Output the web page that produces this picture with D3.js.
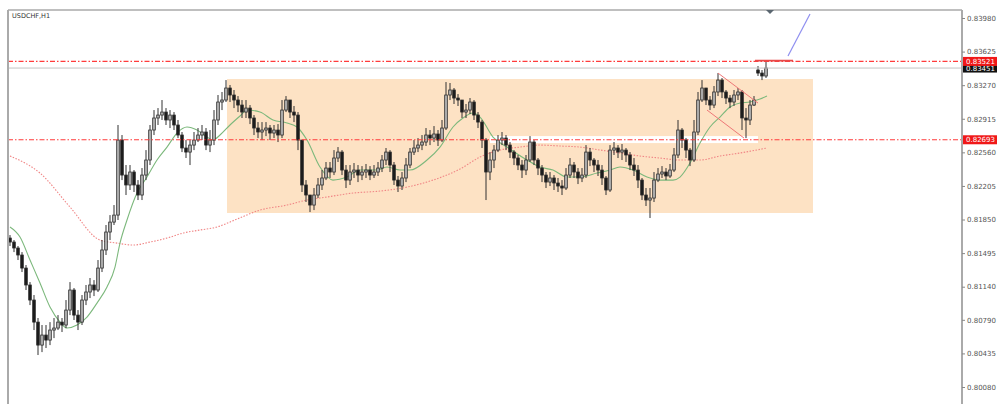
<!DOCTYPE html>
<html><head><meta charset="utf-8">
<script src="https://cdn.jsdelivr.net/npm/d3@7"></script>
<style>body{margin:0;background:#fff}svg{display:block}</style>
</head><body>
<svg id="chart" width="1000" height="412"></svg>
<script>
const symbolTitle = "USDCHF,H1";
const tickValues = [0.83980,0.83625,0.83270,0.82915,0.82560,0.82205,0.81850,0.81495,0.81140,0.80790,0.80435,0.80080];

const opens = [
0.81654,0.81612,0.81549,0.81475,0.81337,0.81158,0.80999,0.80766,0.80523,0.80629,
0.80576,0.80682,0.80703,0.80766,0.80735,0.80893,0.81105,0.80840,0.80766,0.80999,
0.81084,0.81158,0.81105,0.81337,0.81528,0.81718,0.81823,0.81897,0.82690,0.82320,
0.82215,0.82352,0.82215,0.82109,0.82320,0.82479,0.82796,0.82923,0.82954,0.82986,
0.82902,0.82954,0.82849,0.82743,0.82606,0.82563,0.82637,0.82690,0.82743,0.82775,
0.82637,0.82690,0.82902,0.83092,0.83113,0.83240,0.83166,0.83113,0.83060,0.82986,
0.83028,0.82923,0.82817,0.82775,0.82796,0.82817,0.82764,0.82796,0.82743,0.83007,
0.83113,0.82986,0.82954,0.82690,0.82215,0.82109,0.82003,0.82109,0.82215,0.82289,
0.82394,0.82352,0.82500,0.82563,0.82373,0.82267,0.82352,0.82373,0.82320,0.82352,
0.82373,0.82320,0.82352,0.82394,0.82479,0.82563,0.82426,0.82267,0.82204,0.82289,
0.82426,0.82563,0.82606,0.82637,0.82669,0.82743,0.82711,0.82754,0.82690,0.82817,
0.83166,0.83219,0.83134,0.83113,0.82986,0.83007,0.83092,0.82954,0.82880,0.82690,
0.82352,0.82479,0.82584,0.82690,0.82711,0.82637,0.82563,0.82500,0.82426,0.82373,
0.82479,0.82669,0.82479,0.82394,0.82320,0.82246,0.82289,0.82236,0.82204,0.82183,
0.82320,0.82426,0.82352,0.82289,0.82320,0.82563,0.82479,0.82426,0.82373,0.82289,
0.82162,0.82584,0.82606,0.82563,0.82584,0.82532,0.82426,0.82373,0.82267,0.82109,
0.82056,0.82077,0.82267,0.82331,0.82352,0.82310,0.82373,0.82532,0.82796,0.82690,
0.82584,0.82479,0.82775,0.83113,0.83240,0.83113,0.83060,0.83198,0.83324,0.83198,
0.83134,0.83092,0.83166,0.83198,0.82923,0.82902,0.83060,0.83430,0.83398,0.83367];

const highs = [
0.81686,0.81633,0.81570,0.81506,0.81369,0.81189,0.81052,0.80809,0.80735,0.80735,
0.80766,0.80809,0.80840,0.80809,0.80999,0.81189,0.81126,0.80893,0.81052,0.81158,
0.81232,0.81210,0.81422,0.81633,0.81792,0.81897,0.82003,0.82849,0.82743,0.82426,
0.82426,0.82373,0.82267,0.82394,0.82584,0.82849,0.83007,0.83028,0.83113,0.83028,
0.83007,0.82986,0.82902,0.82775,0.82690,0.82690,0.82775,0.82817,0.82849,0.82817,
0.82796,0.83007,0.83166,0.83198,0.83324,0.83272,0.83219,0.83155,0.83113,0.83113,
0.83060,0.82954,0.82880,0.82880,0.82880,0.82849,0.82849,0.82859,0.83113,0.83155,
0.83113,0.83050,0.82986,0.82690,0.82267,0.82109,0.82183,0.82289,0.82373,0.82458,
0.82458,0.82584,0.82616,0.82584,0.82426,0.82426,0.82447,0.82426,0.82415,0.82437,
0.82415,0.82426,0.82458,0.82532,0.82606,0.82584,0.82458,0.82310,0.82352,0.82500,
0.82606,0.82690,0.82711,0.82743,0.82817,0.82796,0.82838,0.82796,0.82902,0.83303,
0.83293,0.83240,0.83176,0.83113,0.83071,0.83134,0.83113,0.82986,0.82902,0.82711,
0.82563,0.82637,0.82743,0.82775,0.82743,0.82669,0.82584,0.82532,0.82479,0.82532,
0.82732,0.82690,0.82500,0.82426,0.82352,0.82352,0.82320,0.82289,0.82267,0.82394,
0.82500,0.82458,0.82394,0.82394,0.82637,0.82606,0.82500,0.82479,0.82426,0.82310,
0.82637,0.82669,0.82637,0.82648,0.82606,0.82563,0.82500,0.82426,0.82289,0.82183,
0.82183,0.82352,0.82394,0.82415,0.82394,0.82437,0.82606,0.82902,0.82817,0.82711,
0.82606,0.82902,0.83198,0.83324,0.83240,0.83155,0.83261,0.83398,0.83346,0.83219,
0.83166,0.83219,0.83240,0.83219,0.83028,0.83113,0.83155,0.83472,0.83430,0.83515];

const lows = [
0.81570,0.81506,0.81422,0.81295,0.81105,0.80946,0.80682,0.80418,0.80449,0.80492,
0.80523,0.80597,0.80682,0.80661,0.80703,0.80840,0.80788,0.80682,0.80735,0.80946,
0.81020,0.81041,0.81084,0.81295,0.81475,0.81633,0.81792,0.81845,0.82267,0.82109,
0.82162,0.82141,0.82056,0.82056,0.82267,0.82426,0.82743,0.82849,0.82902,0.82849,
0.82817,0.82796,0.82711,0.82563,0.82500,0.82426,0.82584,0.82669,0.82690,0.82584,
0.82563,0.82637,0.82849,0.83007,0.83092,0.83092,0.83028,0.82986,0.82923,0.82923,
0.82859,0.82743,0.82711,0.82690,0.82732,0.82690,0.82711,0.82669,0.82711,0.82986,
0.82923,0.82880,0.82584,0.82141,0.82035,0.81929,0.81950,0.82077,0.82162,0.82267,
0.82289,0.82320,0.82458,0.82320,0.82183,0.82215,0.82289,0.82246,0.82267,0.82289,
0.82267,0.82289,0.82310,0.82352,0.82426,0.82352,0.82215,0.82141,0.82162,0.82246,
0.82394,0.82532,0.82563,0.82584,0.82627,0.82637,0.82669,0.82627,0.82669,0.82796,
0.83113,0.83071,0.83050,0.82923,0.82923,0.82965,0.82902,0.82817,0.82606,0.82056,
0.82267,0.82394,0.82563,0.82637,0.82584,0.82500,0.82426,0.82373,0.82289,0.82320,
0.82458,0.82426,0.82320,0.82246,0.82183,0.82204,0.82162,0.82141,0.82109,0.82162,
0.82289,0.82289,0.82225,0.82246,0.82289,0.82415,0.82352,0.82310,0.82215,0.82109,
0.82141,0.82532,0.82500,0.82479,0.82458,0.82373,0.82310,0.82183,0.82056,0.81993,
0.81866,0.82035,0.82246,0.82289,0.82267,0.82289,0.82352,0.82500,0.82606,0.82500,
0.82415,0.82458,0.82743,0.83092,0.83060,0.83007,0.83028,0.83155,0.83134,0.83071,
0.83028,0.83050,0.83113,0.82796,0.82711,0.82849,0.83050,0.83367,0.83324,0.83346];

const closes = [
0.81612,0.81549,0.81475,0.81337,0.81158,0.80999,0.80766,0.80523,0.80629,0.80576,
0.80682,0.80703,0.80766,0.80735,0.80893,0.81105,0.80840,0.80766,0.80999,0.81084,
0.81158,0.81105,0.81337,0.81528,0.81718,0.81823,0.81897,0.82690,0.82320,0.82215,
0.82352,0.82215,0.82109,0.82320,0.82479,0.82796,0.82923,0.82954,0.82986,0.82902,
0.82954,0.82849,0.82743,0.82606,0.82563,0.82637,0.82690,0.82743,0.82775,0.82637,
0.82690,0.82902,0.83092,0.83113,0.83240,0.83166,0.83113,0.83060,0.82986,0.83028,
0.82923,0.82817,0.82775,0.82796,0.82817,0.82764,0.82796,0.82743,0.83007,0.83113,
0.82986,0.82954,0.82690,0.82215,0.82109,0.82003,0.82109,0.82215,0.82289,0.82394,
0.82352,0.82500,0.82563,0.82373,0.82267,0.82352,0.82373,0.82320,0.82352,0.82373,
0.82320,0.82352,0.82394,0.82479,0.82563,0.82426,0.82267,0.82204,0.82289,0.82426,
0.82563,0.82606,0.82637,0.82669,0.82743,0.82711,0.82754,0.82690,0.82817,0.83166,
0.83219,0.83134,0.83113,0.82986,0.83007,0.83092,0.82954,0.82880,0.82690,0.82352,
0.82479,0.82584,0.82690,0.82711,0.82637,0.82563,0.82500,0.82426,0.82373,0.82479,
0.82669,0.82479,0.82394,0.82320,0.82246,0.82289,0.82236,0.82204,0.82183,0.82320,
0.82426,0.82352,0.82289,0.82320,0.82563,0.82479,0.82426,0.82373,0.82289,0.82162,
0.82584,0.82606,0.82563,0.82584,0.82532,0.82426,0.82373,0.82267,0.82109,0.82056,
0.82077,0.82267,0.82331,0.82352,0.82310,0.82373,0.82532,0.82796,0.82690,0.82584,
0.82479,0.82775,0.83113,0.83240,0.83113,0.83060,0.83198,0.83324,0.83198,0.83134,
0.83092,0.83166,0.83198,0.82923,0.82902,0.83060,0.83113,0.83398,0.83367,0.83451];

// moving averages: [bar index, price]
const maFast = [
[0,0.81771],[2.5,0.81665],[5,0.81422],[7.5,0.81179],[10,0.80925],[12.5,0.80766],[14.25,0.80703],
[16.75,0.80735],[19.25,0.80819],[21.75,0.80967],[24.25,0.81136],[26.25,0.81348],[27.5,0.81601],
[29.25,0.81845],[31.75,0.82130],[34.25,0.82299],[36.75,0.82479],[39.25,0.82616],[41.75,0.82764],
[44.25,0.82828],[46.75,0.82796],[49.25,0.82722],[50.75,0.82690],[52.5,0.82743],[55,0.82849],
[57.5,0.82944],[59.25,0.83007],[62.5,0.82986],[65.75,0.82902],[69.25,0.82870],[71.75,0.82828],
[74.25,0.82690],[77.5,0.82405],[80.75,0.82267],[84.25,0.82299],[87.5,0.82373],[91.75,0.82373],
[94.25,0.82405],[97.5,0.82373],[100,0.82373],[104.25,0.82479],[107.5,0.82616],[110.75,0.82828],
[113.25,0.82923],[115.75,0.82976],[117.5,0.82933],[120.75,0.82722],[124.25,0.82616],[129.25,0.82479],
[132.5,0.82405],[135.75,0.82373],[139.25,0.82299],[142.5,0.82299],[146.75,0.82341],[150,0.82373],
[152.5,0.82405],[155.75,0.82373],[159.25,0.82299],[162.5,0.82267],[165.75,0.82267],[167.5,0.82299],
[170,0.82447],[172.5,0.82658],[175,0.82828],[177.5,0.82933],[180,0.83039],[182.5,0.83081],
[185,0.83092],[187.5,0.83124],[189.25,0.83155]];

const maSlow = [
[0,0.82521],[7.5,0.82341],[15,0.81982],[22.5,0.81633],[26.75,0.81601],[30.75,0.81580],[35,0.81612],
[39.25,0.81654],[43.25,0.81707],[47.5,0.81739],[51.75,0.81771],[56.75,0.81855],[62.5,0.81950],
[69.25,0.82003],[74.25,0.82056],[79.25,0.82088],[85.75,0.82130],[92.5,0.82151],[99.25,0.82193],
[105.75,0.82267],[112.5,0.82384],[117.5,0.82510],[122.5,0.82585],[127.5,0.82616],[132.5,0.82637],
[137.5,0.82627],[142.5,0.82616],[147.5,0.82585],[152.5,0.82553],[157.5,0.82521],[162.5,0.82500],
[167.5,0.82479],[172.5,0.82479],[177.5,0.82521],[182.5,0.82553],[189.25,0.82606]];

const levelPrices = [0.83521, 0.82693];
const bidPrice = 0.83451;
const rangeBox = [54.25, 200.75, 0.83335, 0.81919];      // from bar, to bar, top, bottom
const levelBand = [120, 187, 0.82732, 0.82658];
const wedgeUpper = [[177,0.83398],[187,0.83081]];
const wedgeLower = [[174.25,0.83007],[183.5,0.82711]];
const targetLine = [[194.5,0.83578],[200,0.84022]];
const targetMark = [[186.25,0.83530],[195.75,0.83530]];
const shiftBar = 190;

// ---------- drawing ----------
const svg = d3.select("#chart");
const L = 8, R = 962, T = 10, B = 404;
const x = d3.scaleLinear().domain([0, 238]).range([10, 962]);
const y = d3.scaleLinear().domain([0.80080, 0.83980]).range([387, 18]);

const defs = svg.append("defs");
defs.append("clipPath").attr("id","plot")
  .append("rect").attr("x",L).attr("y",T).attr("width",R-L).attr("height",B-T);
defs.append("filter").attr("id","soft").attr("x","-5%").attr("y","-5%").attr("width","110%").attr("height","110%")
  .append("feGaussianBlur").attr("stdDeviation",0.45);
const g = svg.append("g").attr("clip-path","url(#plot)");

// range rectangle
g.append("rect")
  .attr("x", x(rangeBox[0])).attr("y", y(rangeBox[2]))
  .attr("width", x(rangeBox[1]) - x(rangeBox[0]))
  .attr("height", y(rangeBox[3]) - y(rangeBox[2]))
  .attr("fill", "#fde2c4");
g.append("rect")
  .attr("x", x(levelBand[0])).attr("y", y(levelBand[2]))
  .attr("width", x(levelBand[1]) - x(levelBand[0]))
  .attr("height", y(levelBand[3]) - y(levelBand[2]))
  .attr("fill", "#ffffff");

const line = d3.line().x(d => x(d[0])).y(d => y(d[1])).curve(d3.curveMonotoneX);
g.append("path").attr("d", line(maSlow)).attr("fill","none")
  .attr("stroke","#f08585").attr("stroke-width",1.1).attr("stroke-dasharray","1.5,1.5");
g.append("path").attr("d", line(maFast)).attr("fill","none")
  .attr("stroke","#7cb87c").attr("stroke-width",1.1);

// candles
const bars = closes.map((c, i) => ({i, o: opens[i], h: highs[i], l: lows[i], c}));
const cg = g.append("g").attr("filter","url(#soft)");
cg.selectAll("line.wick").data(bars).join("line")
  .attr("x1", d => x(d.i)).attr("x2", d => x(d.i))
  .attr("y1", d => y(d.h)).attr("y2", d => y(d.l))
  .attr("stroke", "#333").attr("stroke-width", 1);
cg.selectAll("rect.body").data(bars).join("rect")
  .attr("x", d => x(d.i) - 1.3).attr("width", 2.6)
  .attr("y", d => y(Math.max(d.o, d.c)))
  .attr("height", d => Math.max(0.8, Math.abs(y(d.o) - y(d.c))))
  .attr("fill", d => d.c >= d.o ? "#b8b8b8" : "#1a1a1a")
  .attr("stroke", "#2a2a2a").attr("stroke-width", 0.8);

// horizontal levels
g.append("line").attr("x1",L).attr("x2",R).attr("y1",y(bidPrice)).attr("y2",y(bidPrice))
  .attr("stroke","#c4c4c4").attr("stroke-width",1);
levelPrices.forEach(p => {
  g.append("line").attr("x1",L).attr("x2",R).attr("y1",y(p)).attr("y2",y(p))
    .attr("stroke","#ff3b3b").attr("stroke-width",1.2).attr("stroke-dasharray","5,2,1.5,2");
});

// trend objects
const seg = (pts, color, w) => g.append("line")
  .attr("x1", x(pts[0][0])).attr("y1", y(pts[0][1]))
  .attr("x2", x(pts[1][0])).attr("y2", y(pts[1][1]))
  .attr("stroke", color).attr("stroke-width", w);
seg(wedgeUpper, "#ee7777", 1);
seg(wedgeLower, "#ee7777", 1);
seg(targetLine, "#8f8ff0", 1.2);
seg(targetMark, "#e84a4a", 1.6);

// frame
svg.append("line").attr("x1",L).attr("x2",L).attr("y1",T).attr("y2",B).attr("stroke","#aaaaaa").attr("stroke-width",2);
svg.append("line").attr("x1",L).attr("x2",R).attr("y1",T).attr("y2",T).attr("stroke","#aaaaaa").attr("stroke-width",1.5);
svg.append("line").attr("x1",R).attr("x2",R).attr("y1",T).attr("y2",B).attr("stroke","#aaaaaa").attr("stroke-width",2);

// chart shift marker
const sx = x(shiftBar);
svg.append("path").attr("d", `M${sx-4},${T} L${sx+4},${T} L${sx},${T+4} Z`).attr("fill","#5a6670");

// title
svg.append("text").attr("x",12).attr("y",18).text(symbolTitle)
  .attr("font-family","DejaVu Sans, sans-serif").attr("font-size",6.5).attr("fill","#333");

// axis
const axis = d3.axisRight(y).tickValues(tickValues).tickFormat(d3.format(".5f")).tickSize(3).tickPadding(2);
const ag = svg.append("g").attr("transform", `translate(${R},0)`).call(axis);
ag.select(".domain").remove();
ag.selectAll(".tick line").attr("stroke","#888");
ag.selectAll(".tick text").attr("font-family","DejaVu Sans, sans-serif").attr("font-size",7).attr("fill","#555");

// price labels
const fmt = d3.format(".5f");
const label = (p, bg) => {
  const yy = y(p);
  svg.append("rect").attr("x", R+1).attr("y", yy-4.5).attr("width", 34).attr("height", 9).attr("fill", bg);
  svg.append("text").attr("x", R+4).attr("y", yy+2.5).text(fmt(p))
    .attr("font-family","DejaVu Sans, sans-serif").attr("font-size",7).attr("fill","#fff");
};
label(bidPrice, "#111111");
levelPrices.forEach(p => label(p, "#f01818"));
</script>
</body></html>
